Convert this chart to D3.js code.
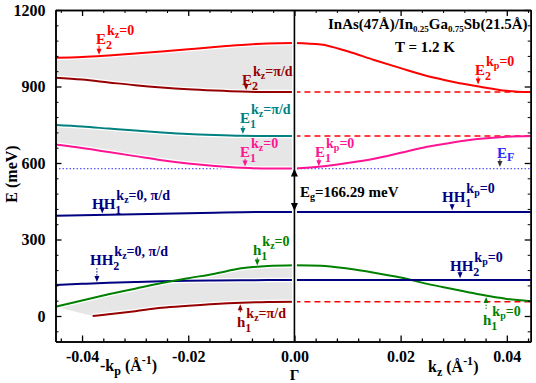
<!DOCTYPE html>
<html>
<head>
<meta charset="utf-8">
<script src="https://cdn.jsdelivr.net/npm/d3@7"></script>
<style>
body { margin: 0; background: #fff; }
svg text { font-family: "Liberation Serif", "Times New Roman", serif; font-weight: bold; }
</style>
</head>
<body>
<svg id="chart" width="536" height="383"></svg>
<script>
// k grids (1/Å): left half is -kp, right half is kz
const kLeft = [-0.045, -0.04, -0.035, -0.03, -0.025, -0.02, -0.015, -0.01, -0.005, 0];
const kRight = [0, 0.005, 0.01, 0.015, 0.02, 0.025, 0.03, 0.035, 0.04, 0.0445];
const kH1Pi = [-0.038, -0.035, -0.03, -0.025, -0.02, -0.015, -0.01, -0.005, 0];

// energies (meV) along -kp
const e2kz0 = [1013, 1016, 1022, 1029, 1037, 1046, 1055, 1063, 1069, 1071];
const e2kzPi = [934, 927, 916, 905, 896, 889, 884, 880, 878, 878];
const e1kzPi = [749, 743, 735, 727, 720, 714, 710, 707, 706, 706];
const e1kz0 = [673, 659, 643, 627, 611, 598, 588, 581, 578, 578];
const hh1kz = [393, 395, 397, 399, 401, 403, 405, 407, 408, 408];
const hh2kz = [122, 126, 130, 133, 136, 138, 139, 140, 141, 141];
const h1kz0 = [36, 61, 85, 107, 129, 148, 166, 187, 196, 199];
const h1kzPi = [0, 7, 19, 32, 40, 47, 52, 55, 56];

// energies (meV) along kz
const e2kp0 = [1071, 1065, 1038, 1004, 972, 941, 918, 899, 883, 878];
const e1kp0 = [578, 586, 600, 617, 640, 664, 681, 695, 703, 706];
const h1kp0 = [199, 197, 186, 170, 151, 126, 105, 84, 67, 58];
const hh1kp = 408, hh2kp = 141;
const dashLevels = [878, 706, 56];
const eF = 578;
const eGap = 166.29;

const xMajor = [-0.04, -0.02, 0, 0.02, 0.04];
const xTickLabels = ["-0.04", "-0.02", "0.00", "0.02", "0.04"];
const yMajor = [0, 300, 600, 900, 1200];

const col = {
    red: "#ff0000", dred: "#960000", teal: "#008080", pink: "#ff1493",
    navy: "#000080", green: "#008000", blue: "#2a2aff"
};

const svg = d3.select("#chart");
const x = d3.scaleLinear().domain([-0.045, 0.0445]).range([55.5, 530.7]);
const y = d3.scaleLinear().domain([-100, 1200]).range([341.5, 10]);

const line = d3.line().x(d => x(d[0])).y(d => y(d[1])).curve(d3.curveMonotoneX);
const pairs = (ks, es) => ks.map((k, i) => [k, es[i]]);

// gray bands
const area = (hi, lo) => hi.concat(lo.slice().reverse());
const fillG = svg.append("g").attr("fill", "#e6e6e6");
fillG.append("path").attr("d", line(area(pairs(kLeft, e2kz0), pairs(kLeft, e2kzPi))) + "Z");
fillG.append("path").attr("d", line(area(pairs(kLeft, e1kzPi), pairs(kLeft, e1kz0))) + "Z");
fillG.append("path").attr("d", line(pairs(kLeft, h1kz0)) + "L" +
    line(pairs(kH1Pi, h1kzPi).reverse()).slice(1) + "L" + x(kLeft[0]) + "," + y(h1kz0[0]) + "Z");

// Fermi level
svg.append("line")
    .attr("x1", x(-0.045)).attr("x2", x(0.0445))
    .attr("y1", y(eF)).attr("y2", y(eF))
    .attr("stroke", "#5a5aff").attr("stroke-width", 1.3).attr("stroke-dasharray", "1.5,2");

// dashed zone-edge levels on the kz side
svg.selectAll(".dash").data(dashLevels).enter().append("line")
    .attr("x1", x(0)).attr("x2", x(0.0445))
    .attr("y1", d => y(d)).attr("y2", d => y(d))
    .attr("stroke", col.red).attr("stroke-width", 1.5).attr("stroke-dasharray", "6,4");

const curves = [
    [pairs(kLeft, e2kz0), col.red, true],
    [pairs(kLeft, e2kzPi), col.dred, true],
    [pairs(kLeft, e1kzPi), col.teal, true],
    [pairs(kLeft, e1kz0), col.pink, true],
    [pairs(kLeft, hh1kz), col.navy, true],
    [pairs(kLeft, hh2kz), col.navy, true],
    [pairs(kLeft, h1kz0), col.green, true],
    [pairs(kH1Pi, h1kzPi), col.dred, true],
    [pairs(kRight, e2kp0), col.red, false],
    [pairs(kRight, e1kp0), col.pink, false],
    [pairs(kRight, h1kp0), col.green, false],
    [[[0, hh1kp], [0.0445, hh1kp]], col.navy, false],
    [[[0, hh2kp], [0.0445, hh2kp]], col.navy, false]
];
svg.append("g").selectAll("path").data(curves.filter(c => c[2])).enter().append("path")
    .attr("d", d => line(d[0])).attr("fill", "none")
    .attr("stroke", "#fff").attr("stroke-width", 4.5);
svg.append("g").selectAll("path").data(curves).enter().append("path")
    .attr("d", d => line(d[0])).attr("fill", "none")
    .attr("stroke", d => d[1]).attr("stroke-width", 2);

// Gamma line with gap arrows
svg.append("line").attr("x1", x(0)).attr("x2", x(0)).attr("y1", y(1200)).attr("y2", y(-100))
    .attr("stroke", "#fff").attr("stroke-width", 5);
svg.append("line").attr("x1", x(0)).attr("x2", x(0)).attr("y1", y(1200)).attr("y2", y(-100))
    .attr("stroke", "#000").attr("stroke-width", 1.6);
const tri = (cx, tip, dir, w, h) =>
    `M${cx},${tip}L${cx - w},${tip - dir * h}L${cx + w},${tip - dir * h}Z`;
svg.append("path").attr("d", tri(x(0), y(eF), -1, 3.5, 8)).attr("fill", "#000");
svg.append("path").attr("d", tri(x(0), y(eF - eGap), 1, 3.5, 8)).attr("fill", "#000");

// axes frame
const minor = (lo, hi, step, majors) => d3.range(Math.round(lo / step), Math.round(hi / step) + 1)
    .map(i => +(i * step).toFixed(4)).filter(v => !majors.some(m => Math.abs(m - v) < 1e-9));
const xMinor = minor(-0.044, 0.044, 0.004, xMajor);
const yMinor = minor(-60, 1140, 60, yMajor);

function styleAxis(g) {
    g.selectAll("path.domain").attr("stroke-width", 1.5);
    g.selectAll(".tick line").attr("stroke-width", 1.3);
    g.selectAll("text").style("font-size", "16px").attr("fill", "#000");
}
const axBottom = svg.append("g").attr("transform", `translate(0,${y(-100)})`);
axBottom.call(d3.axisBottom(x).tickValues(xMajor).tickSize(-6).tickSizeOuter(0).tickPadding(9)
    .tickFormat((d, i) => xTickLabels[i])).call(styleAxis);
axBottom.append("g").call(d3.axisBottom(x).tickValues(xMinor).tickSize(-3).tickSizeOuter(0).tickFormat(""))
    .call(styleAxis);
const axTop = svg.append("g").attr("transform", `translate(0,${y(1200)})`);
axTop.call(d3.axisTop(x).tickValues(xMajor).tickSize(-6).tickSizeOuter(0).tickFormat("")).call(styleAxis);
axTop.append("g").call(d3.axisTop(x).tickValues(xMinor).tickSize(-3).tickSizeOuter(0).tickFormat(""));
const axLeft = svg.append("g").attr("transform", `translate(${x(-0.045)},0)`);
axLeft.call(d3.axisLeft(y).tickValues(yMajor).tickSize(-6).tickSizeOuter(0).tickPadding(10)
    .tickFormat(d3.format("d"))).call(styleAxis);
axLeft.append("g").call(d3.axisLeft(y).tickValues(yMinor).tickSize(-3).tickSizeOuter(0).tickFormat(""));
const axRight = svg.append("g").attr("transform", `translate(${x(0.0445)},0)`);
axRight.call(d3.axisRight(y).tickValues(yMajor).tickSize(-6).tickSizeOuter(0).tickFormat("")).call(styleAxis);
axRight.append("g").call(d3.axisRight(y).tickValues(yMinor).tickSize(-3).tickSizeOuter(0).tickFormat(""));
svg.selectAll(".domain").attr("stroke-width", 1.5);

// axis titles
svg.append("text").attr("transform", "translate(17,174) rotate(-90)").attr("text-anchor", "middle")
    .style("font-size", "16px").text("E (meV)");
svg.append("text").attr("x", x(0)).attr("y", 380).attr("text-anchor", "middle")
    .style("font-size", "15px").text("Γ");
function kTitle(xp, yp, sub, minus) {
    const t = svg.append("text").attr("x", xp).attr("y", yp).style("font-size", "16px");
    t.append("tspan").text(minus + "k");
    t.append("tspan").attr("dy", 4).style("font-size", "12px").text(sub);
    t.append("tspan").attr("dy", -4).text(" (Å");
    t.append("tspan").attr("dy", -7).style("font-size", "12px").text("-1");
    t.append("tspan").attr("dy", 7).text(")");
}
kTitle(100, 371, "p", "-");
kTitle(428, 372, "z", "");

// title
const title = svg.append("text").attr("x", 328).attr("y", 29).style("font-size", "15px");
title.append("tspan").text("InAs(47Å)/In");
title.append("tspan").attr("dy", 3).style("font-size", "9px").text("0.25");
title.append("tspan").attr("dy", -3).text("Ga");
title.append("tspan").attr("dy", 3).style("font-size", "9px").text("0.75");
title.append("tspan").attr("dy", -3).text("Sb(21.5Å)");
svg.append("text").attr("x", 425).attr("y", 52).attr("text-anchor", "middle")
    .style("font-size", "15px").text("T = 1.2 K");

// gap label
const eg = svg.append("text").attr("x", 300).attr("y", 197).style("font-size", "15px");
eg.append("tspan").text("E");
eg.append("tspan").attr("dy", 3).style("font-size", "10px").text("g");
eg.append("tspan").attr("dy", -3).text("=166.29 meV");

// band labels with pointer arrows
const bandLabels = [
    { k: -0.0368, e: 1019, dir: 1, len: 9, base: "E", sub: "2", ks: "z", rest: "=0", c: col.red, tx: 96, ty: 44 },
    { k: -0.0091, e: 880, dir: 1, len: 7, base: "E", sub: "2", ks: "z", rest: "=π/d", c: col.dred, tx: 242, ty: 85 },
    { k: -0.0097, e: 708, dir: 1, len: 8, base: "E", sub: "1", ks: "z", rest: "=π/d", c: col.teal, tx: 240, ty: 123 },
    { k: -0.0093, e: 580, dir: 1, len: 8, base: "E", sub: "1", ks: "z", rest: "=0", c: col.pink, tx: 240, ty: 157 },
    { k: 0.0346, e: 902, dir: 1, len: 8, base: "E", sub: "2", ks: "p", rest: "=0", c: col.red, tx: 475, ty: 75 },
    { k: 0.0046, e: 581, dir: 1, len: 8, base: "E", sub: "1", ks: "p", rest: "=0", c: col.pink, tx: 315, ty: 157 },
    { k: -0.0362, e: 396, dir: 1, len: 6, base: "HH", sub: "1", ks: "z", rest: "=0, π/d", c: col.navy, tx: 92, ty: 209 },
    { k: -0.0372, e: 127, dir: 1, len: 14, base: "HH", sub: "2", ks: "z", rest: "=0, π/d", c: col.navy, tx: 90, ty: 265 },
    { k: -0.0070, e: 192, dir: 1, len: 8, base: "h", sub: "1", ks: "z", rest: "=0", c: col.green, tx: 253, ty: 255 },
    { k: -0.0102, e: 52, dir: -1, len: 8, base: "h", sub: "1", ks: "z", rest: "=π/d", c: col.dred, tx: 237, ty: 327 },
    { k: 0.0297, e: 409, dir: 1, len: 6, base: "HH", sub: "1", ks: "p", rest: "=0", c: col.navy, tx: 442, ty: 202 },
    { k: 0.0312, e: 142, dir: 1, len: 7, base: "HH", sub: "2", ks: "p", rest: "=0", c: col.navy, tx: 450, ty: 271 },
    { k: 0.0361, e: 80, dir: -1, len: 12, base: "h", sub: "1", ks: "p", rest: "=0", c: col.green, tx: 483, ty: 325 }
];

function pointer(k, e, dir, len, c) {
    const px = x(k), tip = y(e) - dir * 1.5;
    svg.append("line").attr("x1", px).attr("x2", px)
        .attr("y1", tip - dir * len).attr("y2", tip - dir * 5)
        .attr("stroke", c).attr("stroke-width", 1).attr("stroke-dasharray", len > 10 ? "1.5,1.5" : null);
    svg.append("path").attr("d", tri(px, tip, dir, 2.5, 6)).attr("fill", c);
}

bandLabels.forEach(d => {
    pointer(d.k, d.e, d.dir, d.len, d.c);
    const g = svg.append("g").attr("fill", d.c);
    const b = g.append("text").attr("x", d.tx).attr("y", d.ty).style("font-size", "15px").text(d.base);
    const w = b.node().getComputedTextLength();
    g.append("text").attr("x", d.tx + w).attr("y", d.ty + 5).style("font-size", "12px").text(d.sub);
    const s = g.append("text").attr("x", d.tx + w + 1).attr("y", d.ty - 9).style("font-size", "14px");
    s.append("tspan").text("k");
    s.append("tspan").attr("dy", 3).style("font-size", "10px").text(d.ks);
    s.append("tspan").attr("dy", -3).text(d.rest);
});

// Fermi level label
pointer(0.0387, eF, 1, 8, "#333");
const ef = svg.append("text").attr("x", 497).attr("y", 158).attr("fill", col.blue).style("font-size", "15px");
ef.append("tspan").text("E");
ef.append("tspan").attr("dy", 3).style("font-size", "12px").text("F");
</script>
</body>
</html>
